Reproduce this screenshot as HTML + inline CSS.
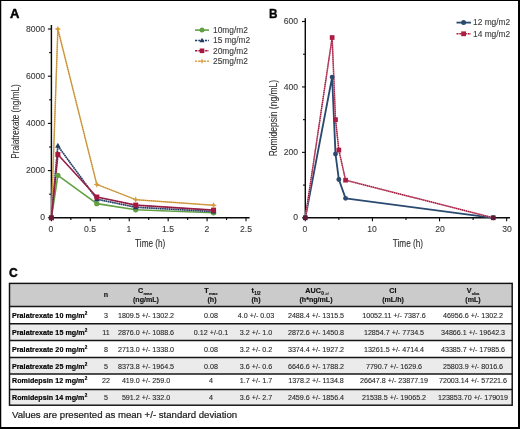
<!DOCTYPE html>
<html><head><meta charset="utf-8"><style>
*{margin:0;padding:0;box-sizing:border-box}
html,body{width:520px;height:429px;overflow:hidden;background:#fff}
body{position:relative;font-family:"Liberation Sans", sans-serif;color:#1c1c1c}
.t{position:absolute;white-space:nowrap;line-height:1;will-change:transform;-webkit-text-stroke-width:0.22px}
.r{position:absolute;white-space:nowrap;line-height:1}
.b{position:absolute}
svg{position:absolute;left:0;top:0;will-change:transform}
</style></head><body>
<svg width="520" height="429" viewBox="0 0 520 429">
<line x1="51.4" y1="25" x2="51.4" y2="218.525" stroke="#0a0a0a" stroke-width="1.45"/>
<line x1="50.675" y1="217.8" x2="249.6" y2="217.8" stroke="#0a0a0a" stroke-width="1.45"/>
<line x1="47.9" y1="217.8" x2="51.4" y2="217.8" stroke="#0a0a0a" stroke-width="1.1"/>
<line x1="49.1" y1="194.2" x2="51.4" y2="194.2" stroke="#0a0a0a" stroke-width="1.1"/>
<line x1="47.9" y1="170.6" x2="51.4" y2="170.6" stroke="#0a0a0a" stroke-width="1.1"/>
<line x1="49.1" y1="147" x2="51.4" y2="147" stroke="#0a0a0a" stroke-width="1.1"/>
<line x1="47.9" y1="123.4" x2="51.4" y2="123.4" stroke="#0a0a0a" stroke-width="1.1"/>
<line x1="49.1" y1="99.8" x2="51.4" y2="99.8" stroke="#0a0a0a" stroke-width="1.1"/>
<line x1="47.9" y1="76.2" x2="51.4" y2="76.2" stroke="#0a0a0a" stroke-width="1.1"/>
<line x1="49.1" y1="52.6" x2="51.4" y2="52.6" stroke="#0a0a0a" stroke-width="1.1"/>
<line x1="47.9" y1="29" x2="51.4" y2="29" stroke="#0a0a0a" stroke-width="1.1"/>
<line x1="51.4" y1="217.8" x2="51.4" y2="221.3" stroke="#0a0a0a" stroke-width="1.1"/>
<line x1="70.86" y1="217.8" x2="70.86" y2="220.1" stroke="#0a0a0a" stroke-width="1.1"/>
<line x1="90.32" y1="217.8" x2="90.32" y2="221.3" stroke="#0a0a0a" stroke-width="1.1"/>
<line x1="109.79" y1="217.8" x2="109.79" y2="220.1" stroke="#0a0a0a" stroke-width="1.1"/>
<line x1="129.25" y1="217.8" x2="129.25" y2="221.3" stroke="#0a0a0a" stroke-width="1.1"/>
<line x1="148.71" y1="217.8" x2="148.71" y2="220.1" stroke="#0a0a0a" stroke-width="1.1"/>
<line x1="168.17" y1="217.8" x2="168.17" y2="221.3" stroke="#0a0a0a" stroke-width="1.1"/>
<line x1="187.64" y1="217.8" x2="187.64" y2="220.1" stroke="#0a0a0a" stroke-width="1.1"/>
<line x1="207.1" y1="217.8" x2="207.1" y2="221.3" stroke="#0a0a0a" stroke-width="1.1"/>
<line x1="226.56" y1="217.8" x2="226.56" y2="220.1" stroke="#0a0a0a" stroke-width="1.1"/>
<line x1="246.03" y1="217.8" x2="246.03" y2="221.3" stroke="#0a0a0a" stroke-width="1.1"/>
<line x1="305.3" y1="18.2" x2="305.3" y2="218.525" stroke="#0a0a0a" stroke-width="1.45"/>
<line x1="304.575" y1="217.8" x2="510" y2="217.8" stroke="#0a0a0a" stroke-width="1.45"/>
<line x1="302" y1="217.8" x2="305.3" y2="217.8" stroke="#0a0a0a" stroke-width="1.1"/>
<line x1="303" y1="185.08" x2="305.3" y2="185.08" stroke="#0a0a0a" stroke-width="1.1"/>
<line x1="302" y1="152.37" x2="305.3" y2="152.37" stroke="#0a0a0a" stroke-width="1.1"/>
<line x1="303" y1="119.65" x2="305.3" y2="119.65" stroke="#0a0a0a" stroke-width="1.1"/>
<line x1="302" y1="86.93" x2="305.3" y2="86.93" stroke="#0a0a0a" stroke-width="1.1"/>
<line x1="303" y1="54.22" x2="305.3" y2="54.22" stroke="#0a0a0a" stroke-width="1.1"/>
<line x1="302" y1="21.5" x2="305.3" y2="21.5" stroke="#0a0a0a" stroke-width="1.1"/>
<line x1="305.3" y1="217.8" x2="305.3" y2="221.3" stroke="#0a0a0a" stroke-width="1.1"/>
<line x1="338.86" y1="217.8" x2="338.86" y2="220.1" stroke="#0a0a0a" stroke-width="1.1"/>
<line x1="372.42" y1="217.8" x2="372.42" y2="221.3" stroke="#0a0a0a" stroke-width="1.1"/>
<line x1="405.98" y1="217.8" x2="405.98" y2="220.1" stroke="#0a0a0a" stroke-width="1.1"/>
<line x1="439.54" y1="217.8" x2="439.54" y2="221.3" stroke="#0a0a0a" stroke-width="1.1"/>
<line x1="473.1" y1="217.8" x2="473.1" y2="220.1" stroke="#0a0a0a" stroke-width="1.1"/>
<line x1="506.66" y1="217.8" x2="506.66" y2="221.3" stroke="#0a0a0a" stroke-width="1.1"/>
<polyline points="51.4,217.8 57.86,29 96.79,184.41 135.71,199.63 213.56,205.32" fill="none" stroke="#e2ad55" stroke-width="1.5" stroke-linejoin="round"/>
<polyline points="51.4,217.8 57.86,29 96.79,184.41 135.71,199.63 213.56,205.32" fill="none" stroke="#a67a30" stroke-width="0.8" stroke-linejoin="round" stroke-dasharray="1.1 0.9"/>
<polyline points="51.4,217.8 57.86,175.32 96.79,203.64 135.71,209.78 213.56,212.73" fill="none" stroke="#62a043" stroke-width="1.6" stroke-linejoin="round"/>
<polyline points="51.4,217.8 57.86,145.82 96.79,199.16 135.71,207.23 213.56,211.55" fill="none" stroke="#9aa8c0" stroke-width="1.5" stroke-linejoin="round"/>
<polyline points="51.4,217.8 57.86,145.82 96.79,199.16 135.71,207.23 213.56,211.55" fill="none" stroke="#1f3b62" stroke-width="1.6" stroke-linejoin="round" stroke-dasharray="1.4 0.8"/>
<polyline points="51.4,217.8 57.86,154.55 96.79,197.03 135.71,205.13 213.56,210.13" fill="none" stroke="#ad2f57" stroke-width="1.7" stroke-linejoin="round"/>
<polyline points="51.4,217.8 57.86,154.55 96.79,197.03 135.71,205.13 213.56,210.13" fill="none" stroke="#701535" stroke-width="1.0" stroke-linejoin="round" stroke-dasharray="1.2 0.8"/>
<circle cx="57.86" cy="175.32" r="2.65" fill="#62a043"/>
<circle cx="96.79" cy="203.64" r="2.65" fill="#62a043"/>
<circle cx="135.71" cy="209.78" r="2.65" fill="#62a043"/>
<circle cx="213.56" cy="212.73" r="2.65" fill="#62a043"/>
<polygon points="57.86,142.8 55.06,147.84 60.66,147.84" fill="#1f3b62"/>
<polygon points="96.79,196.13 93.99,201.17 99.59,201.17" fill="#1f3b62"/>
<polygon points="135.71,204.2 132.91,209.24 138.51,209.24" fill="#1f3b62"/>
<polygon points="213.56,208.52 210.76,213.56 216.36,213.56" fill="#1f3b62"/>
<rect x="48.9" y="215.3" width="5.0" height="5.0" fill="#6e1a35"/>
<rect x="55.36" y="152.05" width="5.0" height="5.0" fill="#a5173f"/>
<rect x="94.29" y="194.53" width="5.0" height="5.0" fill="#a5173f"/>
<rect x="133.21" y="202.63" width="5.0" height="5.0" fill="#a5173f"/>
<rect x="211.06" y="207.63" width="5.0" height="5.0" fill="#a5173f"/>
<path d="M57.86,25.7 L58.85,28.01 L61.16,29 L58.85,29.99 L57.86,32.3 L56.87,29.99 L54.56,29 L56.87,28.01 Z" fill="#d89a3a"/>
<path d="M96.79,181.11 L97.78,183.42 L100.09,184.41 L97.78,185.4 L96.79,187.71 L95.8,185.4 L93.49,184.41 L95.8,183.42 Z" fill="#d89a3a"/>
<path d="M135.71,196.33 L136.7,198.64 L139.01,199.63 L136.7,200.62 L135.71,202.93 L134.72,200.62 L132.41,199.63 L134.72,198.64 Z" fill="#d89a3a"/>
<path d="M213.56,202.02 L214.55,204.33 L216.86,205.32 L214.55,206.31 L213.56,208.62 L212.57,206.31 L210.26,205.32 L212.57,204.33 Z" fill="#d89a3a"/>
<polyline points="305.3,217.8 332.15,77.12 335.5,154 338.86,179.52 345.57,198.37 493.24,217.8" fill="none" stroke="#2b4a70" stroke-width="1.85" stroke-linejoin="round"/>
<polyline points="305.3,217.8 332.15,37.53 335.5,119.65 338.86,150.08 345.57,180.18 493.24,217.8" fill="none" stroke="#d27890" stroke-width="1.5" stroke-linejoin="round"/>
<polyline points="305.3,217.8 332.15,37.53 335.5,119.65 338.86,150.08 345.57,180.18 493.24,217.8" fill="none" stroke="#9a1238" stroke-width="1.3" stroke-linejoin="round" stroke-dasharray="1.1 0.9"/>
<circle cx="305.3" cy="217.8" r="2.45" fill="#2b4a70"/>
<circle cx="332.15" cy="77.12" r="2.45" fill="#2b4a70"/>
<circle cx="335.5" cy="154" r="2.45" fill="#2b4a70"/>
<circle cx="338.86" cy="179.52" r="2.45" fill="#2b4a70"/>
<circle cx="345.57" cy="198.37" r="2.45" fill="#2b4a70"/>
<circle cx="493.24" cy="217.8" r="2.45" fill="#2b4a70"/>
<rect x="302.95" y="215.45" width="4.7" height="4.7" fill="#5e1a36"/>
<rect x="329.8" y="35.18" width="4.7" height="4.7" fill="#ab1c45"/>
<rect x="333.15" y="117.3" width="4.7" height="4.7" fill="#ab1c45"/>
<rect x="336.51" y="147.73" width="4.7" height="4.7" fill="#ab1c45"/>
<rect x="343.22" y="177.83" width="4.7" height="4.7" fill="#ab1c45"/>
<rect x="490.89" y="215.45" width="4.7" height="4.7" fill="#5e1a36"/>
<line x1="195" y1="30.1" x2="209" y2="30.1" stroke="#62a043" stroke-width="1.6"/>
<circle cx="202" cy="30.1" r="2.5" fill="#62a043"/>
<line x1="195" y1="40.5" x2="209" y2="40.5" stroke="#1f3b62" stroke-width="1.6" stroke-dasharray="2.2 1.1"/>
<polygon points="202,37.8 199.5,42.3 204.5,42.3" fill="#1f3b62"/>
<line x1="195" y1="50.8" x2="209" y2="50.8" stroke="#a5173f" stroke-width="1.6" stroke-dasharray="2.4 1"/>
<rect x="199.7" y="48.5" width="4.6" height="4.6" fill="#a5173f"/>
<line x1="195" y1="61.2" x2="209" y2="61.2" stroke="#dfa24a" stroke-width="1.6" stroke-dasharray="2 1"/>
<path d="M202,58.4 L202.84,60.36 L204.8,61.2 L202.84,62.04 L202,64 L201.16,62.04 L199.2,61.2 L201.16,60.36 Z" fill="#dfa24a"/>
<line x1="456.5" y1="22.6" x2="471" y2="22.6" stroke="#2b4a70" stroke-width="1.8"/>
<circle cx="463.6" cy="22.6" r="2.5" fill="#2b4a70"/>
<line x1="456.5" y1="33.8" x2="471" y2="33.8" stroke="#ab1c45" stroke-width="1.6" stroke-dasharray="2 0.8"/>
<rect x="461.2" y="31.4" width="4.8" height="4.8" fill="#ab1c45"/>
<text transform="translate(18.9,121.5) rotate(-90)" text-anchor="middle" font-family="Liberation Sans" font-size="10.4" fill="#2e2e2e" stroke="#2e2e2e" stroke-width="0.1" textLength="74.5" lengthAdjust="spacingAndGlyphs">Pralatrexate (ng/mL)</text>
<text transform="translate(277.4,118.1) rotate(-90)" text-anchor="middle" font-family="Liberation Sans" font-size="10.4" fill="#2e2e2e" stroke="#2e2e2e" stroke-width="0.1" textLength="76.5" lengthAdjust="spacingAndGlyphs">Romidepsin (ng/mL)</text>
<text transform="translate(150.2,247.3)" text-anchor="middle" font-family="Liberation Sans" font-size="10.4" fill="#2e2e2e" stroke="#2e2e2e" stroke-width="0.1" textLength="30.2" lengthAdjust="spacingAndGlyphs">Time (h)</text>
<text transform="translate(407.9,247.3)" text-anchor="middle" font-family="Liberation Sans" font-size="10.4" fill="#2e2e2e" stroke="#2e2e2e" stroke-width="0.1" textLength="30.2" lengthAdjust="spacingAndGlyphs">Time (h)</text>
</svg>

<div class="t" style="left:9.60px;top:6.90px;font-size:13.0px;font-weight:bold;color:#000;-webkit-text-stroke-width:0.45px">A</div>
<div class="t" style="left:268.60px;top:6.70px;font-size:13.0px;font-weight:bold;color:#000;-webkit-text-stroke-width:0.45px;transform:scaleX(0.9);transform-origin:0 0">B</div>
<div class="t" style="left:9.30px;top:266.26px;font-size:13.4px;font-weight:bold;color:#000;-webkit-text-stroke-width:0.45px;transform:scaleX(0.9);transform-origin:0 0">C</div>
<div class="t" style="left:14.60px;top:213.48px;font-size:8.6px;width:30px;text-align:right;color:#383838;-webkit-text-stroke-width:0.1px">0</div>
<div class="t" style="left:14.60px;top:166.28px;font-size:8.6px;width:30px;text-align:right;color:#383838;-webkit-text-stroke-width:0.1px">2000</div>
<div class="t" style="left:14.60px;top:119.08px;font-size:8.6px;width:30px;text-align:right;color:#383838;-webkit-text-stroke-width:0.1px">4000</div>
<div class="t" style="left:14.60px;top:71.88px;font-size:8.6px;width:30px;text-align:right;color:#383838;-webkit-text-stroke-width:0.1px">6000</div>
<div class="t" style="left:14.60px;top:24.68px;font-size:8.6px;width:30px;text-align:right;color:#383838;-webkit-text-stroke-width:0.1px">8000</div>
<div class="t" style="left:36.40px;top:224.92px;font-size:8.6px;width:30px;text-align:center;color:#383838;-webkit-text-stroke-width:0.1px">0</div>
<div class="t" style="left:75.32px;top:224.92px;font-size:8.6px;width:30px;text-align:center;color:#383838;-webkit-text-stroke-width:0.1px">0.5</div>
<div class="t" style="left:114.25px;top:224.92px;font-size:8.6px;width:30px;text-align:center;color:#383838;-webkit-text-stroke-width:0.1px">1</div>
<div class="t" style="left:153.17px;top:224.92px;font-size:8.6px;width:30px;text-align:center;color:#383838;-webkit-text-stroke-width:0.1px">1.5</div>
<div class="t" style="left:192.10px;top:224.92px;font-size:8.6px;width:30px;text-align:center;color:#383838;-webkit-text-stroke-width:0.1px">2</div>
<div class="t" style="left:231.03px;top:224.92px;font-size:8.6px;width:30px;text-align:center;color:#383838;-webkit-text-stroke-width:0.1px">2.5</div>
<div class="t" style="left:268.40px;top:213.48px;font-size:8.6px;width:30px;text-align:right;color:#383838;-webkit-text-stroke-width:0.1px">0</div>
<div class="t" style="left:268.40px;top:148.05px;font-size:8.6px;width:30px;text-align:right;color:#383838;-webkit-text-stroke-width:0.1px">200</div>
<div class="t" style="left:268.40px;top:82.61px;font-size:8.6px;width:30px;text-align:right;color:#383838;-webkit-text-stroke-width:0.1px">400</div>
<div class="t" style="left:268.40px;top:17.18px;font-size:8.6px;width:30px;text-align:right;color:#383838;-webkit-text-stroke-width:0.1px">600</div>
<div class="t" style="left:290.30px;top:224.92px;font-size:8.6px;width:30px;text-align:center;color:#383838;-webkit-text-stroke-width:0.1px">0</div>
<div class="t" style="left:357.42px;top:224.92px;font-size:8.6px;width:30px;text-align:center;color:#383838;-webkit-text-stroke-width:0.1px">10</div>
<div class="t" style="left:424.54px;top:224.92px;font-size:8.6px;width:30px;text-align:center;color:#383838;-webkit-text-stroke-width:0.1px">20</div>
<div class="t" style="left:491.66px;top:224.92px;font-size:8.6px;width:30px;text-align:center;color:#383838;-webkit-text-stroke-width:0.1px">30</div>
<div class="t" style="left:213.00px;top:25.99px;font-size:8.4px;color:#383838;-webkit-text-stroke-width:0.1px">10mg/m2</div>
<div class="t" style="left:213.00px;top:36.39px;font-size:8.4px;color:#383838;-webkit-text-stroke-width:0.1px">15 mg/m2</div>
<div class="t" style="left:213.00px;top:46.69px;font-size:8.4px;color:#383838;-webkit-text-stroke-width:0.1px">20mg/m2</div>
<div class="t" style="left:213.00px;top:57.09px;font-size:8.4px;color:#383838;-webkit-text-stroke-width:0.1px">25mg/m2</div>
<div class="t" style="left:473.00px;top:18.49px;font-size:8.4px;color:#383838;-webkit-text-stroke-width:0.1px">12 mg/m2</div>
<div class="t" style="left:473.00px;top:29.69px;font-size:8.4px;color:#383838;-webkit-text-stroke-width:0.1px">14 mg/m2</div>
<svg width="520" height="429" viewBox="0 0 520 429"><rect x="9.5" y="283.4" width="502.7" height="23.2" fill="#cbcbcb"/><rect x="9.5" y="323.8" width="502.7" height="16.8" fill="#ebebeb"/><rect x="9.5" y="357.4" width="502.7" height="16.5" fill="#ebebeb"/><rect x="9.5" y="389.4" width="502.7" height="15.8" fill="#ebebeb"/><line x1="9.5" y1="306.6" x2="512.2" y2="306.6" stroke="#161616" stroke-width="1.5"/><line x1="9.5" y1="323.8" x2="512.2" y2="323.8" stroke="#161616" stroke-width="1.5"/><line x1="9.5" y1="340.6" x2="512.2" y2="340.6" stroke="#161616" stroke-width="1.5"/><line x1="9.5" y1="357.4" x2="512.2" y2="357.4" stroke="#161616" stroke-width="1.5"/><line x1="9.5" y1="373.9" x2="512.2" y2="373.9" stroke="#161616" stroke-width="1.5"/><line x1="9.5" y1="389.4" x2="512.2" y2="389.4" stroke="#161616" stroke-width="1.5"/><rect x="9.5" y="283.4" width="502.7" height="121.8" fill="none" stroke="#111" stroke-width="1.45"/></svg>
<div class="t" style="left:96.20px;top:291.89px;font-size:7.1px;width:20px;text-align:center;font-weight:bold;color:#111;-webkit-text-stroke:0.15px #111">n</div>
<div class="t" style="left:114.80px;top:287.01px;font-size:7.2px;width:60px;text-align:center;font-weight:bold;color:#111;-webkit-text-stroke:0.15px #111">C<span style="font-size:4.3px;position:relative;top:2.1px;margin-left:0.3px">max</span></div><div class="t" style="left:115.60px;top:296.99px;font-size:7.1px;width:60px;text-align:center;font-weight:bold;color:#111;-webkit-text-stroke:0.15px #111">(ng/mL)</div>
<div class="t" style="left:181.30px;top:287.01px;font-size:7.2px;width:60px;text-align:center;font-weight:bold;color:#111;-webkit-text-stroke:0.15px #111">T<span style="font-size:4.3px;position:relative;top:2.1px;margin-left:0.3px">max</span></div><div class="t" style="left:181.50px;top:296.99px;font-size:7.1px;width:60px;text-align:center;font-weight:bold;color:#111;-webkit-text-stroke:0.15px #111">(h)</div>
<div class="t" style="left:226.00px;top:287.01px;font-size:7.2px;width:60px;text-align:center;font-weight:bold;color:#111;-webkit-text-stroke:0.15px #111">t<span style="font-size:4.6px;position:relative;top:2.1px;margin-left:0.3px">1/2</span></div><div class="t" style="left:225.80px;top:296.99px;font-size:7.1px;width:60px;text-align:center;font-weight:bold;color:#111;-webkit-text-stroke:0.15px #111">(h)</div>
<div class="t" style="left:286.50px;top:287.01px;font-size:7.2px;width:60px;text-align:center;font-weight:bold;color:#111;-webkit-text-stroke:0.15px #111">AUC<span style="font-size:4.8px;position:relative;top:2.1px;margin-left:0.3px">0<span style="font-size:2.8px;font-weight:normal;color:#888;margin-left:1px">-inf</span></span></div><div class="t" style="left:285.80px;top:296.99px;font-size:7.1px;width:60px;text-align:center;font-weight:bold;color:#111;-webkit-text-stroke:0.15px #111">(h*ng/mL)</div>
<div class="t" style="left:362.60px;top:287.01px;font-size:7.2px;width:60px;text-align:center;font-weight:bold;color:#111;-webkit-text-stroke:0.15px #111">Cl<span style="font-size:4.3px;position:relative;top:2.1px;margin-left:0.3px"></span></div><div class="t" style="left:362.70px;top:296.99px;font-size:7.1px;width:60px;text-align:center;font-weight:bold;color:#111;-webkit-text-stroke:0.15px #111">(mL/h)</div>
<div class="t" style="left:443.40px;top:287.01px;font-size:7.2px;width:60px;text-align:center;font-weight:bold;color:#111;-webkit-text-stroke:0.15px #111">V<span style="font-size:4.3px;position:relative;top:2.1px;margin-left:0.3px">obs</span></div><div class="t" style="left:443.10px;top:296.99px;font-size:7.1px;width:60px;text-align:center;font-weight:bold;color:#111;-webkit-text-stroke:0.15px #111">(mL)</div>
<div class="t" style="left:12.40px;top:313.29px;font-size:7.1px;font-weight:bold;color:#000;-webkit-text-stroke:0.2px #000;letter-spacing:0.06px">Pralatrexate 10 mg/m<span style="font-size:4.6px;position:relative;top:-2.7px;margin-left:0.2px">2</span></div>
<div class="t" style="left:61.20px;top:313.25px;font-size:7.15px;width:90px;text-align:center;color:#262626;-webkit-text-stroke-width:0.1px">3</div>
<div class="t" style="left:100.60px;top:313.25px;font-size:7.15px;width:90px;text-align:center;color:#262626;-webkit-text-stroke-width:0.1px">1809.5 +/- 1302.2</div>
<div class="t" style="left:166.20px;top:313.25px;font-size:7.15px;width:90px;text-align:center;color:#262626;-webkit-text-stroke-width:0.1px">0.08</div>
<div class="t" style="left:211.40px;top:313.25px;font-size:7.15px;width:90px;text-align:center;color:#262626;-webkit-text-stroke-width:0.1px">4.0 +/- 0.03</div>
<div class="t" style="left:270.80px;top:313.25px;font-size:7.15px;width:90px;text-align:center;color:#262626;-webkit-text-stroke-width:0.1px">2488.4 +/- 1315.5</div>
<div class="t" style="left:348.60px;top:313.25px;font-size:7.15px;width:90px;text-align:center;color:#262626;-webkit-text-stroke-width:0.1px">10052.11 +/- 7387.6</div>
<div class="t" style="left:428.10px;top:313.25px;font-size:7.15px;width:90px;text-align:center;color:#262626;-webkit-text-stroke-width:0.1px">46956.6 +/- 1302.2</div>
<div class="t" style="left:12.40px;top:329.59px;font-size:7.1px;font-weight:bold;color:#000;-webkit-text-stroke:0.2px #000;letter-spacing:0.06px">Pralatrexate 15 mg/m<span style="font-size:4.6px;position:relative;top:-2.7px;margin-left:0.2px">2</span></div>
<div class="t" style="left:61.20px;top:329.55px;font-size:7.15px;width:90px;text-align:center;color:#262626;-webkit-text-stroke-width:0.1px">11</div>
<div class="t" style="left:100.60px;top:329.55px;font-size:7.15px;width:90px;text-align:center;color:#262626;-webkit-text-stroke-width:0.1px">2876.0 +/- 1088.6</div>
<div class="t" style="left:166.20px;top:329.55px;font-size:7.15px;width:90px;text-align:center;color:#262626;-webkit-text-stroke-width:0.1px">0.12 +/-0.1</div>
<div class="t" style="left:211.40px;top:329.55px;font-size:7.15px;width:90px;text-align:center;color:#262626;-webkit-text-stroke-width:0.1px">3.2 +/- 1.0</div>
<div class="t" style="left:270.80px;top:329.55px;font-size:7.15px;width:90px;text-align:center;color:#262626;-webkit-text-stroke-width:0.1px">2872.6 +/- 1450.8</div>
<div class="t" style="left:348.60px;top:329.55px;font-size:7.15px;width:90px;text-align:center;color:#262626;-webkit-text-stroke-width:0.1px">12854.7 +/- 7734.5</div>
<div class="t" style="left:428.10px;top:329.55px;font-size:7.15px;width:90px;text-align:center;color:#262626;-webkit-text-stroke-width:0.1px">34866.1 +/- 19642.3</div>
<div class="t" style="left:12.40px;top:346.99px;font-size:7.1px;font-weight:bold;color:#000;-webkit-text-stroke:0.2px #000;letter-spacing:0.06px">Pralatrexate 20 mg/m<span style="font-size:4.6px;position:relative;top:-2.7px;margin-left:0.2px">2</span></div>
<div class="t" style="left:61.20px;top:346.95px;font-size:7.15px;width:90px;text-align:center;color:#262626;-webkit-text-stroke-width:0.1px">8</div>
<div class="t" style="left:100.60px;top:346.95px;font-size:7.15px;width:90px;text-align:center;color:#262626;-webkit-text-stroke-width:0.1px">2713.0 +/- 1338.0</div>
<div class="t" style="left:166.20px;top:346.95px;font-size:7.15px;width:90px;text-align:center;color:#262626;-webkit-text-stroke-width:0.1px">0.08</div>
<div class="t" style="left:211.40px;top:346.95px;font-size:7.15px;width:90px;text-align:center;color:#262626;-webkit-text-stroke-width:0.1px">3.2 +/- 0.2</div>
<div class="t" style="left:270.80px;top:346.95px;font-size:7.15px;width:90px;text-align:center;color:#262626;-webkit-text-stroke-width:0.1px">3374.4 +/- 1927.2</div>
<div class="t" style="left:348.60px;top:346.95px;font-size:7.15px;width:90px;text-align:center;color:#262626;-webkit-text-stroke-width:0.1px">13261.5 +/- 4714.4</div>
<div class="t" style="left:428.10px;top:346.95px;font-size:7.15px;width:90px;text-align:center;color:#262626;-webkit-text-stroke-width:0.1px">43385.7 +/- 17985.6</div>
<div class="t" style="left:12.40px;top:363.89px;font-size:7.1px;font-weight:bold;color:#000;-webkit-text-stroke:0.2px #000;letter-spacing:0.06px">Pralatrexate 25 mg/m<span style="font-size:4.6px;position:relative;top:-2.7px;margin-left:0.2px">2</span></div>
<div class="t" style="left:61.20px;top:363.85px;font-size:7.15px;width:90px;text-align:center;color:#262626;-webkit-text-stroke-width:0.1px">5</div>
<div class="t" style="left:100.60px;top:363.85px;font-size:7.15px;width:90px;text-align:center;color:#262626;-webkit-text-stroke-width:0.1px">8373.8 +/- 1964.5</div>
<div class="t" style="left:166.20px;top:363.85px;font-size:7.15px;width:90px;text-align:center;color:#262626;-webkit-text-stroke-width:0.1px">0.08</div>
<div class="t" style="left:211.40px;top:363.85px;font-size:7.15px;width:90px;text-align:center;color:#262626;-webkit-text-stroke-width:0.1px">3.6 +/- 0.6</div>
<div class="t" style="left:270.80px;top:363.85px;font-size:7.15px;width:90px;text-align:center;color:#262626;-webkit-text-stroke-width:0.1px">6646.6 +/- 1788.2</div>
<div class="t" style="left:348.60px;top:363.85px;font-size:7.15px;width:90px;text-align:center;color:#262626;-webkit-text-stroke-width:0.1px">7790.7 +/- 1629.6</div>
<div class="t" style="left:428.10px;top:363.85px;font-size:7.15px;width:90px;text-align:center;color:#262626;-webkit-text-stroke-width:0.1px">25803.9 +/- 8016.6</div>
<div class="t" style="left:12.40px;top:378.49px;font-size:7.1px;font-weight:bold;color:#000;-webkit-text-stroke:0.2px #000;letter-spacing:0.06px">Romidepsin 12 mg/m<span style="font-size:4.6px;position:relative;top:-2.7px;margin-left:0.2px">2</span></div>
<div class="t" style="left:61.20px;top:378.45px;font-size:7.15px;width:90px;text-align:center;color:#262626;-webkit-text-stroke-width:0.1px">22</div>
<div class="t" style="left:100.60px;top:378.45px;font-size:7.15px;width:90px;text-align:center;color:#262626;-webkit-text-stroke-width:0.1px">419.0 +/- 259.0</div>
<div class="t" style="left:166.20px;top:378.45px;font-size:7.15px;width:90px;text-align:center;color:#262626;-webkit-text-stroke-width:0.1px">4</div>
<div class="t" style="left:211.40px;top:378.45px;font-size:7.15px;width:90px;text-align:center;color:#262626;-webkit-text-stroke-width:0.1px">1.7 +/- 1.7</div>
<div class="t" style="left:270.80px;top:378.45px;font-size:7.15px;width:90px;text-align:center;color:#262626;-webkit-text-stroke-width:0.1px">1378.2 +/- 1134.8</div>
<div class="t" style="left:348.60px;top:378.45px;font-size:7.15px;width:90px;text-align:center;color:#262626;-webkit-text-stroke-width:0.1px">26647.8 +/- 23877.19</div>
<div class="t" style="left:428.10px;top:378.45px;font-size:7.15px;width:90px;text-align:center;color:#262626;-webkit-text-stroke-width:0.1px">72003.14 +/- 57221.6</div>
<div class="t" style="left:12.40px;top:394.59px;font-size:7.1px;font-weight:bold;color:#000;-webkit-text-stroke:0.2px #000;letter-spacing:0.06px">Romidepsin 14 mg/m<span style="font-size:4.6px;position:relative;top:-2.7px;margin-left:0.2px">2</span></div>
<div class="t" style="left:61.20px;top:394.55px;font-size:7.15px;width:90px;text-align:center;color:#262626;-webkit-text-stroke-width:0.1px">5</div>
<div class="t" style="left:100.60px;top:394.55px;font-size:7.15px;width:90px;text-align:center;color:#262626;-webkit-text-stroke-width:0.1px">591.2 +/- 332.0</div>
<div class="t" style="left:166.20px;top:394.55px;font-size:7.15px;width:90px;text-align:center;color:#262626;-webkit-text-stroke-width:0.1px">4</div>
<div class="t" style="left:211.40px;top:394.55px;font-size:7.15px;width:90px;text-align:center;color:#262626;-webkit-text-stroke-width:0.1px">3.6 +/- 2.7</div>
<div class="t" style="left:270.80px;top:394.55px;font-size:7.15px;width:90px;text-align:center;color:#262626;-webkit-text-stroke-width:0.1px">2459.6 +/- 1856.4</div>
<div class="t" style="left:348.60px;top:394.55px;font-size:7.15px;width:90px;text-align:center;color:#262626;-webkit-text-stroke-width:0.1px">21538.5 +/- 19065.2</div>
<div class="t" style="left:428.10px;top:394.55px;font-size:7.15px;width:90px;text-align:center;color:#262626;-webkit-text-stroke-width:0.1px">123853.70 +/- 179019</div>
<div class="t" style="left:12.10px;top:409.67px;font-size:9.6px">Values are presented as mean +/- standard deviation</div>
<div class="b" style="left:0;top:0;width:520px;height:1px;background:#000"></div>
<div class="b" style="left:0;top:0;width:1px;height:429px;background:#000"></div>
<div class="b" style="left:1px;top:0;width:1px;height:429px;background:#000;opacity:.25"></div>
<div class="b" style="left:518px;top:0;width:2px;height:429px;background:#000"></div>
<div class="b" style="left:0;top:427px;width:520px;height:2px;background:#000"></div>
</body></html>
